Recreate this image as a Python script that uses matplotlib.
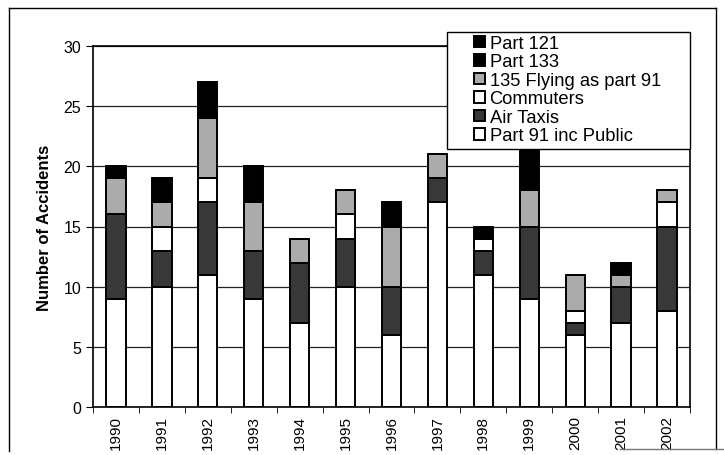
import numpy as np
import matplotlib
matplotlib.use('Agg')
import matplotlib.pyplot as plt
from matplotlib.lines import Line2D
from matplotlib.patches import Rectangle

plt.rcParams['font.family'] = ['Liberation Sans', 'DejaVu Sans']

# Unfallzahlen je Jahr und Kategorie (von unten nach oben gestapelt)
years = ['1990', '1991', '1992', '1993', '1994', '1995', '1996',
         '1997', '1998', '1999', '2000', '2001', '2002']
part91 = [9, 10, 11, 9, 7, 10, 6, 17, 11, 9, 6, 7, 8]
air_taxis = [7, 3, 6, 4, 5, 4, 4, 2, 2, 6, 1, 3, 7]
commuters = [0, 2, 2, 0, 0, 2, 0, 0, 1, 0, 1, 0, 2]
flying135 = [3, 2, 5, 4, 2, 2, 5, 2, 0, 3, 3, 1, 1]
part133 = [1, 2, 3, 3, 0, 0, 2, 0, 1, 3, 0, 1, 0]
part121 = [0, 0, 0, 0, 0, 0, 0, 0, 0, 1, 0, 0, 0]

series = [
    ('Part 91 inc Public', part91, 'white'),
    ('Air Taxis', air_taxis, '#383838'),
    ('Commuters', commuters, 'white'),
    ('135 Flying as part 91', flying135, '#ababab'),
    ('Part 133', part133, 'black'),
    ('Part 121', part121, 'black'),
]

W, H = 724, 456
fig = plt.figure(figsize=(W/100, H/100), dpi=100)
ax = fig.add_axes([93/W, 1-408/H, (690-93)/W, (408-47)/H])

x = np.arange(len(years))
bottom = np.zeros(len(years))
handles = []
for name, vals, col in series:
    vals = np.array(vals, dtype=float)
    bars = ax.bar(x, vals, 0.42, bottom=bottom, color=col,
                  edgecolor='black', linewidth=1.4, zorder=3, label=name)
    bottom += vals
    handles.append(bars)

ax.set_xlim(-0.5, len(years) - 0.5)
ax.set_ylim(0, 30)
ax.set_yticks(range(0, 31, 5))
ax.set_xticks(x)
ax.set_xticklabels(years, rotation=90, fontsize=11)
ax.tick_params(axis='x', length=0, pad=6)
ax.set_xticks(np.arange(-0.5, len(years), 1), minor=True)
ax.tick_params(axis='x', which='minor', length=4, direction='out')
ax.tick_params(axis='y', labelsize=11.5, length=5, direction='out')
ax.yaxis.grid(True, color='#222222', linewidth=0.9)
ax.set_axisbelow(True)
for s in ax.spines.values():
    s.set_linewidth(1.2)
ax.set_ylabel('Number of Accidents', fontsize=12, fontweight='bold', labelpad=8)

# Legendenrahmen separat, da breiter als der Inhalt
fig.add_artist(Rectangle((447/W, 1-150/H), (690-447)/W, (150-33)/H,
                         transform=fig.transFigure, facecolor='white',
                         edgecolor='black', linewidth=1.0, zorder=4))
leg = fig.legend(handles[::-1], [s[0] for s in series][::-1],
                 loc='upper left', bbox_to_anchor=(474/W, 1-36/H),
                 fontsize=13.2, frameon=False,
                 handlelength=0.6, handleheight=0.6, handletextpad=0.25,
                 labelspacing=0.08, borderpad=0.0, borderaxespad=0.0)
leg.set_zorder(5)

# Rahmen um das gesamte Diagramm
fig.add_artist(Line2D([9/W, 9/W], [1-9/H, 1-452/H], color='black', lw=1.0))
fig.add_artist(Line2D([9/W, 716/W], [1-9/H, 1-9/H], color='black', lw=1.0))
fig.add_artist(Line2D([716/W, 716/W], [1-9/H, 1-450/H], color='black', lw=1.0))
fig.add_artist(Line2D([620/W, 1.0], [1-450/H, 1-450/H], color='#777777', lw=1.0))

plt.savefig('out.png', dpi=100)
